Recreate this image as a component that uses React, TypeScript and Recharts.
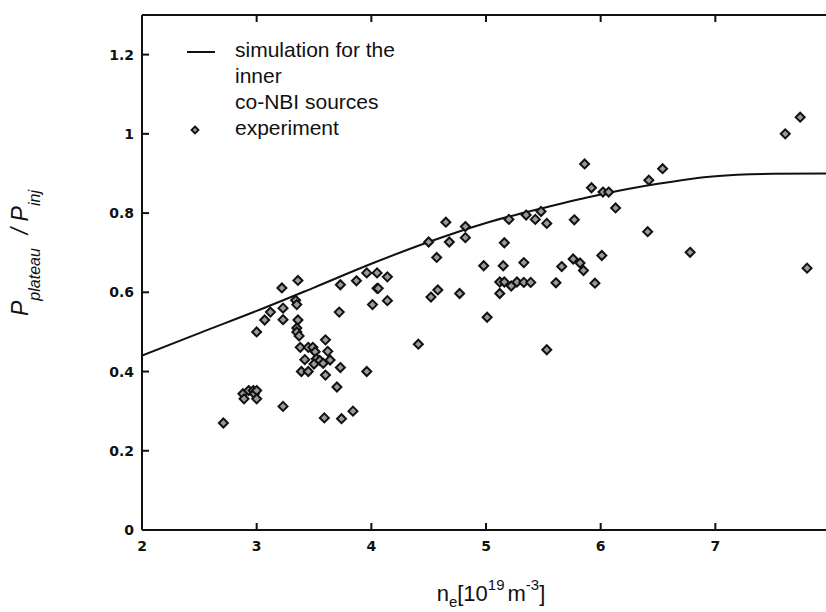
import { ComposedChart, Line, Scatter, XAxis, YAxis } from 'recharts';

// simulation curve for the inner co-NBI sources
const simDensity = [2, 2.5, 3, 3.5, 4, 4.5, 5, 5.5, 6, 6.5, 7, 7.5, 8];
const simRatio = [0.44, 0.497, 0.553, 0.612, 0.672, 0.727, 0.775, 0.813, 0.847, 0.874, 0.893, 0.899, 0.9];

// experiment points
const expDensity = [
  2.71, 2.88, 2.89, 2.93, 2.97, 2.98, 3.0, 3.0, 3.0, 3.07, 3.12, 3.22, 3.23, 3.23, 3.23,
  3.34, 3.35, 3.36, 3.36, 3.35, 3.35, 3.37, 3.38, 3.45, 3.49, 3.51, 3.42, 3.52, 3.55, 3.5,
  3.58, 3.64, 3.62, 3.6, 3.39, 3.45, 3.6, 3.73, 3.7, 3.72, 3.73, 3.59, 3.74, 3.84, 3.87,
  3.96, 3.96, 4.01, 4.05, 4.05, 4.06, 4.14, 4.14, 4.41, 4.5, 4.52, 4.57, 4.58, 4.65, 4.68,
  4.77, 4.82, 4.82, 4.98, 5.01, 5.12, 5.12, 5.15, 5.16, 5.16, 5.2, 5.22, 5.27, 5.33, 5.33,
  5.35, 5.39, 5.43, 5.48, 5.53, 5.53, 5.61, 5.66, 5.76, 5.77, 5.82, 5.85, 5.86, 5.92, 5.95,
  6.01, 6.02, 6.07, 6.13, 6.41, 6.42, 6.54, 6.78, 7.61, 7.74, 7.8,
];
const expRatio = [
  0.27, 0.344, 0.331, 0.352, 0.352, 0.344, 0.352, 0.331, 0.5, 0.53, 0.55, 0.611, 0.56, 0.531, 0.312,
  0.58, 0.569, 0.63, 0.53, 0.51, 0.5, 0.49, 0.461, 0.461, 0.461, 0.45, 0.43, 0.432, 0.428, 0.419,
  0.421, 0.429, 0.451, 0.48, 0.4, 0.4, 0.391, 0.41, 0.361, 0.55, 0.619, 0.283, 0.281, 0.3, 0.629,
  0.649, 0.4, 0.569, 0.649, 0.61, 0.61, 0.639, 0.579, 0.469, 0.727, 0.588, 0.688, 0.606, 0.777, 0.727,
  0.597, 0.766, 0.738, 0.667, 0.537, 0.626, 0.597, 0.667, 0.725, 0.626, 0.784, 0.616, 0.626, 0.625, 0.675,
  0.795, 0.625, 0.784, 0.804, 0.774, 0.455, 0.624, 0.665, 0.684, 0.783, 0.674, 0.655, 0.924, 0.864, 0.623,
  0.693, 0.853, 0.853, 0.813, 0.753, 0.883, 0.912, 0.701, 1.0, 1.042, 0.661,
];

const xTicks = [2, 3, 4, 5, 6, 7, 8];
const yTicks = [0, 0.2, 0.4, 0.6, 0.8, 1, 1.2];

const simData = simDensity.map((x, i) => ({ x, y: simRatio[i] }));
const expData = expDensity.map((x, i) => ({ x, y: expRatio[i] }));

const INK = '#111';
const LEFT = 142;
const TOP = 15;
const BOTTOM = 530;
const RIGHT = 830;
const TICK = 7;
const labelFont = '"Liberation Sans", Arial, sans-serif';
const tickFont = '"DejaVu Sans", sans-serif';

const fmt = (v: number) => String(Number(v.toFixed(1)));

const LeftTick = ({ y, payload }: any) => (
  <g>
    <line x1={LEFT} y1={y} x2={LEFT + TICK} y2={y} stroke={INK} strokeWidth={2} />
    <text x={LEFT - 8} y={y} dy="0.36em" textAnchor="end" fontFamily={tickFont} fontWeight="bold" fontSize={14} fill={INK}>
      {fmt(payload.value)}
    </text>
  </g>
);

const BottomTick = ({ x, payload }: any) => (
  <g>
    <line x1={x} y1={BOTTOM} x2={x} y2={BOTTOM - TICK} stroke={INK} strokeWidth={2} />
    <text x={x} y={BOTTOM + 10} dy="0.75em" textAnchor="middle" fontFamily={tickFont} fontWeight="bold" fontSize={14} fill={INK}>
      {payload.value}
    </text>
  </g>
);

const TopTick = ({ x, payload }: any) =>
  payload.value === 2 || payload.value === 8 ? <g /> : (
    <line x1={x} y1={TOP} x2={x} y2={TOP + TICK} stroke={INK} strokeWidth={2} />
  );

const RightTick = ({ y, payload }: any) =>
  payload.value === 0 ? <g /> : (
    <line x1={RIGHT} y1={y} x2={RIGHT - TICK} y2={y} stroke={INK} strokeWidth={2} />
  );

const Diamond = ({ cx, cy }: any) => (
  <polygon
    points={`${cx},${cy - 4.5} ${cx + 4.5},${cy} ${cx},${cy + 4.5} ${cx - 4.5},${cy}`}
    fill="#9a9a9a"
    stroke={INK}
    strokeWidth={2}
  />
);

const App = () => {
  return (
    <div style={{ position: 'fixed', left: 0, top: 0, width: 826, height: 612, overflow: 'hidden', background: '#fff' }}>
      <ComposedChart width={840} height={612} margin={{ top: 5, right: 10, bottom: 0, left: 0 }}>
        <XAxis
          dataKey="x"
          type="number"
          domain={[2, 8]}
          ticks={xTicks}
          height={82}
          tickSize={0}
          tickLine={false}
          tick={BottomTick}
          axisLine={{ stroke: INK, strokeWidth: 2 }}
          allowDataOverflow
        />
        <XAxis
          xAxisId="top"
          orientation="top"
          dataKey="x"
          type="number"
          domain={[2, 8]}
          ticks={xTicks}
          height={10}
          tickSize={0}
          tickLine={false}
          tick={TopTick}
          axisLine={{ stroke: INK, strokeWidth: 2 }}
          allowDataOverflow
        />
        <YAxis
          dataKey="y"
          type="number"
          domain={[0, 1.3]}
          ticks={yTicks}
          width={142}
          tickSize={0}
          tickLine={false}
          tick={LeftTick}
          axisLine={{ stroke: INK, strokeWidth: 2 }}
          allowDataOverflow
        />
        <YAxis
          yAxisId="right"
          orientation="right"
          dataKey="y"
          type="number"
          domain={[0, 1.3]}
          ticks={yTicks}
          width={0}
          tickSize={0}
          tickLine={false}
          tick={RightTick}
          axisLine={{ stroke: INK, strokeWidth: 2 }}
          allowDataOverflow
        />
        <Line
          data={simData}
          dataKey="y"
          type="monotone"
          stroke={INK}
          strokeWidth={2}
          dot={false}
          activeDot={false}
          isAnimationActive={false}
        />
        <Scatter data={expData} dataKey="y" shape={Diamond} isAnimationActive={false} />
      </ComposedChart>
      <svg width={826} height={612} style={{ position: 'absolute', left: 0, top: 0, pointerEvents: 'none' }}>
        {/* legend */}
        <line x1={187} y1={52} x2={215} y2={52} stroke={INK} strokeWidth={2} />
        <polygon points="195,126.5 198.5,130 195,133.5 191.5,130" fill="#9a9a9a" stroke={INK} strokeWidth={1.8} />
        <g fontFamily={labelFont} fontSize={21} fill={INK}>
          <text x={235} y={57}>simulation for the</text>
          <text x={235} y={83}>inner</text>
          <text x={235} y={109}>co-NBI sources</text>
          <text x={235} y={135}>experiment</text>
        </g>
        {/* x label */}
        <text x={491} y={601} textAnchor="middle" fontFamily={labelFont} fontSize={22} fill={INK}>
          <tspan>n</tspan>
          <tspan fontSize={15} dy={6}>e</tspan>
          <tspan dy={-6}>[10</tspan>
          <tspan fontSize={15} dy={-11}>19</tspan>
          <tspan dx={3} dy={11}>m</tspan>
          <tspan fontSize={15} dy={-11}>-3</tspan>
          <tspan dy={11}>]</tspan>
        </text>
        {/* y label */}
        <text
          x={28}
          y={316}
          transform="rotate(-90, 28, 316)"
          fontFamily={labelFont}
          fontStyle="italic"
          fontSize={23}
          fill={INK}
        >
          <tspan>P</tspan>
          <tspan fontSize={16} dy={12}>plateau</tspan>
          <tspan dx={14} dy={-12}>/ P</tspan>
          <tspan fontSize={16} dy={12}>inj</tspan>
        </text>
      </svg>
    </div>
  );
};

export default App;
